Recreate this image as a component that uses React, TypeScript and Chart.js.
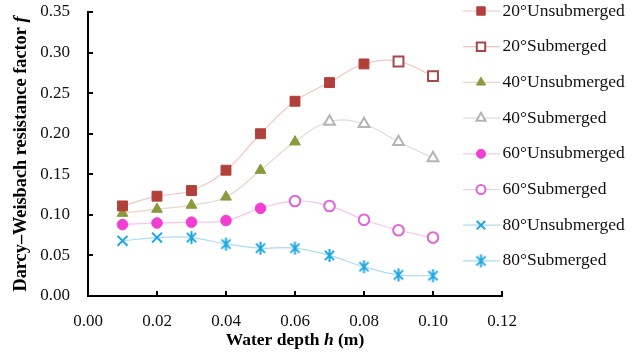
import React, { useEffect, useRef } from 'react';
import { Chart, registerables } from 'chart.js';

Chart.register(...registerables);

// ---- data ----
const depths = [0.01, 0.02, 0.03, 0.04, 0.05, 0.06, 0.07, 0.08, 0.09, 0.1];
const angleLabels = ['20°', '40°', '60°', '80°'];
const f20 = [0.111, 0.123, 0.13, 0.155, 0.2, 0.24, 0.263, 0.286, 0.289, 0.271];
const f40 = [0.102, 0.107, 0.112, 0.122, 0.155, 0.19, 0.215, 0.212, 0.19, 0.17];
const f60 = [0.088, 0.09, 0.091, 0.093, 0.108, 0.117, 0.111, 0.094, 0.081, 0.072];
const f80 = [0.068, 0.072, 0.072, 0.064, 0.059, 0.059, 0.05, 0.036, 0.026, 0.025];
const seriesValues = [f20, f40, f60, f80];
// number of leading points that are "Unsubmerged" for each angle
const unsubmergedCount = [8, 6, 5, 2];
const xMin = 0, xMax = 0.12, xStep = 0.02;
const yMin = 0, yMax = 0.35, yStep = 0.05;

// ---- styles ----
type Style = {
  fill: string; stroke: string; line: string; subLine: string;
  unsubShape: string; subShape: string; r: number;
};
const styles: Style[] = [
  { fill: '#b1403b', stroke: '#a8474a', line: '#efc6c4', subLine: '#efc6c4', unsubShape: 'rect', subShape: 'rect', r: 7 },
  { fill: '#8a9a3d', stroke: '#b4b4b4', line: '#e9d3cc', subLine: '#dcdcdc', unsubShape: 'triangle', subShape: 'triangle', r: 6.2 },
  { fill: '#f23fd2', stroke: '#e065d6', line: '#f5c6ee', subLine: '#f5c6ee', unsubShape: 'circle', subShape: 'circle', r: 5.3 },
  { fill: '#1ea6e4', stroke: '#1ea6e4', line: '#abdcf2', subLine: '#abdcf2', unsubShape: 'crossRot', subShape: 'asterisk', r: 7 },
];

const SERIF = "'Liberation Serif', 'Times New Roman', serif";

function makeAsterisk(color: string, r: number): HTMLCanvasElement {
  const size = Math.ceil(r * 2 + 4);
  const c = document.createElement('canvas');
  c.width = size; c.height = size;
  const g = c.getContext('2d')!;
  const cx = size / 2, cy = size / 2;
  const d = r * 0.7071;
  g.strokeStyle = color; g.lineWidth = 2;
  g.beginPath();
  g.moveTo(cx - d, cy - d); g.lineTo(cx + d, cy + d);
  g.moveTo(cx + d, cy - d); g.lineTo(cx - d, cy + d);
  g.moveTo(cx, cy - r); g.lineTo(cx, cy + r);
  g.stroke();
  return c;
}

function drawMarker(ctx: CanvasRenderingContext2D, shape: any, x: number, y: number, r: number, fill: string, stroke: string, lw: number) {
  ctx.save();
  ctx.fillStyle = fill; ctx.strokeStyle = stroke; ctx.lineWidth = lw;
  ctx.beginPath();
  if (shape instanceof HTMLCanvasElement) {
    ctx.drawImage(shape, x - shape.width / 2, y - shape.height / 2);
    ctx.restore();
    return;
  }
  if (shape === 'rect') {
    const s = r * Math.SQRT1_2;
    ctx.rect(x - s, y - s, 2 * s, 2 * s);
    ctx.fill(); ctx.stroke();
  } else if (shape === 'triangle') {
    const a = -Math.PI / 2;
    ctx.moveTo(x + Math.cos(a) * r, y + Math.sin(a) * r);
    ctx.lineTo(x + Math.cos(a + 2 * Math.PI / 3) * r, y + Math.sin(a + 2 * Math.PI / 3) * r);
    ctx.lineTo(x + Math.cos(a + 4 * Math.PI / 3) * r, y + Math.sin(a + 4 * Math.PI / 3) * r);
    ctx.closePath();
    ctx.fill(); ctx.stroke();
  } else if (shape === 'circle') {
    ctx.arc(x, y, r, 0, Math.PI * 2);
    ctx.fill(); ctx.stroke();
  } else if (shape === 'crossRot') {
    const d = r * Math.SQRT1_2;
    ctx.moveTo(x - d, y - d); ctx.lineTo(x + d, y + d);
    ctx.moveTo(x + d, y - d); ctx.lineTo(x - d, y + d);
    ctx.stroke();
  }
  ctx.restore();
}

export default function App() {
  const ref = useRef<HTMLCanvasElement>(null);

  useEffect(() => {
    const canvas = ref.current!;
    const asterisk = makeAsterisk(styles[3].fill, 6.5);
    const shapeOf = (s: string) => (s === 'asterisk' ? asterisk : s);

    const markerSets: any[] = [];
    const lineSets: any[] = [];
    const legendItems: any[] = [];
    seriesValues.forEach((vals, i) => {
      const st = styles[i];
      const k = unsubmergedCount[i];
      const pts = depths.map((d, j) => ({ x: d, y: vals[j] }));
      lineSets.push({
        label: angleLabels[i] + 'line',
        data: pts,
        showLine: true,
        borderColor: st.line,
        borderWidth: 1.2,
        pointRadius: 0,
        tension: 0.4,
        order: 2,
        segment: {
          borderColor: (c: any) => (c.p0DataIndex >= k - 1 ? st.subLine : st.line),
        },
      });
      markerSets.push({
        label: angleLabels[i] + 'Unsubmerged',
        data: pts.slice(0, k),
        showLine: false,
        pointStyle: shapeOf(st.unsubShape),
        pointRadius: st.r,
        backgroundColor: st.fill,
        borderColor: st.fill,
        borderWidth: st.unsubShape === 'crossRot' ? 2 : 1,
        order: 1,
      });
      markerSets.push({
        label: angleLabels[i] + 'Submerged',
        data: pts.slice(k),
        showLine: false,
        pointStyle: shapeOf(st.subShape),
        pointRadius: st.r,
        backgroundColor: '#ffffff',
        borderColor: st.stroke,
        borderWidth: 2,
        order: 1,
      });
      legendItems.push({ text: angleLabels[i] + 'Unsubmerged', shape: shapeOf(st.unsubShape), r: st.r, fill: st.fill, stroke: st.fill, lw: st.unsubShape === 'crossRot' ? 2 : 1, line: st.line });
      legendItems.push({ text: angleLabels[i] + 'Submerged', shape: shapeOf(st.subShape), r: st.r, fill: '#ffffff', stroke: st.stroke, lw: 2, line: st.subLine });
    });

    const decor = {
      id: 'decor',
      afterDraw(chart: any) {
        const ctx = chart.ctx as CanvasRenderingContext2D;
        const { left, right, top, bottom } = chart.chartArea;
        const xs = chart.scales.x, ys = chart.scales.y;
        // inward tick marks
        ctx.save();
        ctx.strokeStyle = '#000'; ctx.lineWidth = 2;
        ctx.beginPath();
        ys.ticks.forEach((t: any) => {
          const py = Math.round(ys.getPixelForValue(t.value));
          ctx.moveTo(left, py); ctx.lineTo(left + 5, py);
        });
        xs.ticks.forEach((t: any) => {
          const px = Math.round(xs.getPixelForValue(t.value));
          ctx.moveTo(px, bottom); ctx.lineTo(px, bottom - 5);
        });
        ctx.stroke();
        ctx.restore();

        // axis titles
        ctx.save();
        ctx.fillStyle = '#000';
        ctx.textBaseline = 'middle';
        const boldF = `bold 17.5px ${SERIF}`;
        const italF = `italic bold 17.5px ${SERIF}`;
        const parts = [
          { t: 'Water depth ', f: boldF },
          { t: 'h', f: italF },
          { t: ' (m)', f: boldF },
        ];
        let w = 0;
        parts.forEach(p => { ctx.font = p.f; w += ctx.measureText(p.t).width; });
        let x = (left + right) / 2 - w / 2;
        const ty = bottom + 44;
        parts.forEach(p => { ctx.font = p.f; ctx.fillText(p.t, x, ty); x += ctx.measureText(p.t).width; });

        ctx.translate(21, (top + bottom) / 2);
        ctx.rotate(-Math.PI / 2);
        const boldY = `bold 18.3px ${SERIF}`;
        const italY = `italic bold 18.3px ${SERIF}`;
        const yparts = [
          { t: 'Darcy\u2013Weisbach resistance factor ', f: boldY },
          { t: 'f', f: italY },
        ];
        w = 0;
        yparts.forEach(p => { ctx.font = p.f; w += ctx.measureText(p.t).width; });
        x = -w / 2;
        yparts.forEach(p => { ctx.font = p.f; ctx.fillText(p.t, x, 0); x += ctx.measureText(p.t).width; });
        ctx.restore();

        // legend
        ctx.save();
        ctx.font = `17.5px ${SERIF}`;
        ctx.textBaseline = 'middle';
        legendItems.forEach((it, i) => {
          const cy = top - 1 + i * 35.7;
          ctx.strokeStyle = it.line; ctx.lineWidth = 1.2;
          ctx.beginPath();
          ctx.moveTo(right - 39, cy); ctx.lineTo(right - 2, cy);
          ctx.stroke();
          drawMarker(ctx, it.shape, right - 21, cy, it.r * 0.85, it.fill, it.stroke, it.lw);
          ctx.fillStyle = '#111';
          ctx.fillText(it.text, right + 0.5, cy);
        });
        ctx.restore();
      },
    };

    const chart = new Chart(canvas, {
      type: 'scatter',
      data: { datasets: [...markerSets, ...lineSets] },
      options: {
        animation: false,
        responsive: false,
        layout: { padding: { left: 0, top: 12, right: 133, bottom: 0 } },
        plugins: { legend: { display: false }, tooltip: { enabled: false } },
        scales: {
          x: {
            type: 'linear', min: xMin, max: xMax,
            grid: { display: false, drawTicks: false },
            border: { display: true, color: '#000', width: 2 },
            ticks: {
              stepSize: xStep, padding: 15, color: '#111',
              font: { family: SERIF, size: 17 },
              callback: (v: any) => Number(v).toFixed(2),
            },
            afterFit: (s: any) => { s.height = 61; },
          },
          y: {
            type: 'linear', min: yMin, max: yMax,
            grid: { display: false, drawTicks: false },
            border: { display: true, color: '#000', width: 2 },
            ticks: {
              stepSize: yStep, padding: 18, color: '#111',
              font: { family: SERIF, size: 17 },
              callback: (v: any) => Number(v).toFixed(2),
            },
            afterFit: (s: any) => { s.width = 88; s.paddingTop = 8; s.paddingBottom = 8; },
          },
        },
      },
      plugins: [decor],
    } as any);
    return () => chart.destroy();
  }, []);

  return (
    <div style={{ position: 'fixed', left: 0, top: 0, width: 635, height: 357, background: '#fff' }}>
      <canvas ref={ref} width={635} height={357} style={{ display: 'block' }} />
    </div>
  );
}
